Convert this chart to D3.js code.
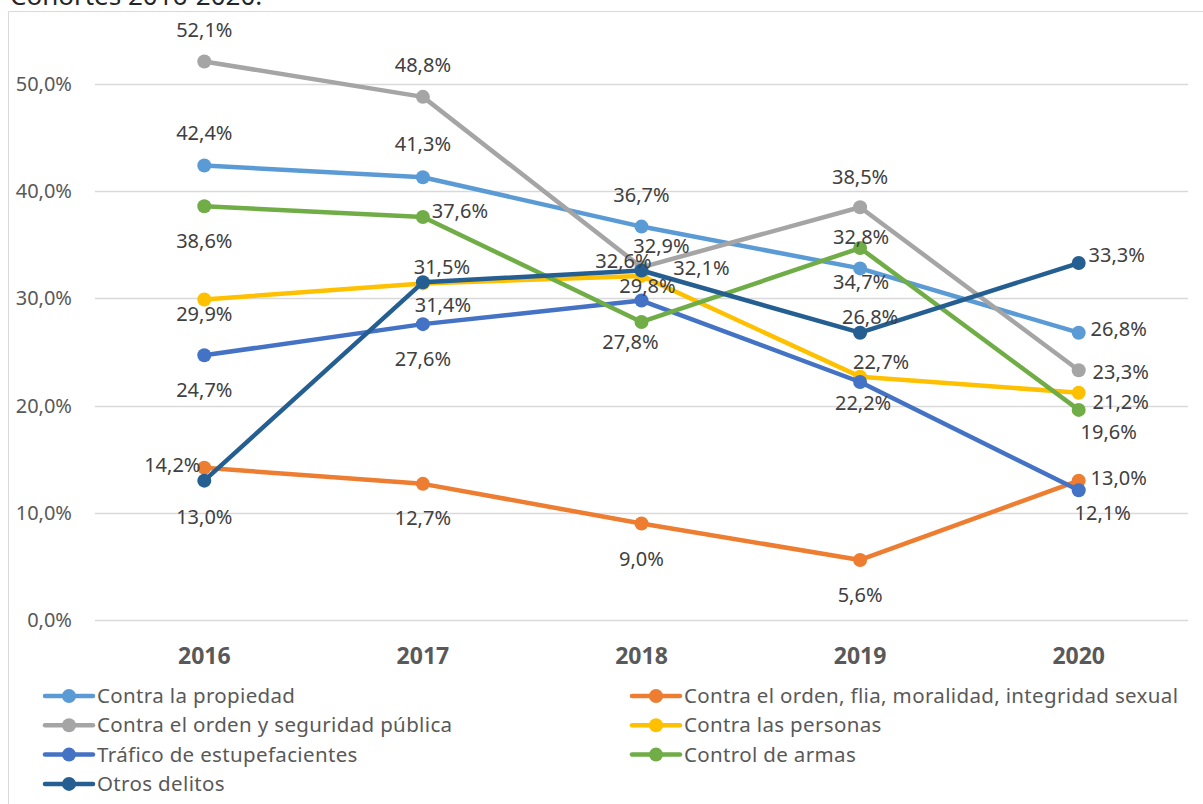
<!DOCTYPE html>
<html>
<head>
<meta charset="utf-8">
<script src="https://cdn.jsdelivr.net/npm/d3@7"></script>
<style>
  body { margin: 0; background: #fff; }
  svg { display: block; font-family: "Noto Sans", "Open Sans", sans-serif; }
</style>
</head>
<body>
<div id="chart"></div>
<script>
(function () {

  // Data
  const years = ["2016", "2017", "2018", "2019", "2020"]
  const seriesNames = [
    "Contra la propiedad",
    "Contra el orden, flia, moralidad, integridad sexual",
    "Contra el orden y seguridad pública",
    "Contra las personas",
    "Tráfico de estupefacientes",
    "Control de armas",
    "Otros delitos"
  ]
  const propiedad = [42.4, 41.3, 36.7, 32.8, 26.8]
  const ordenFlia = [14.2, 12.7, 9.0, 5.6, 13.0]
  const ordenSeguridad = [52.1, 48.8, 32.9, 38.5, 23.3]
  const personas = [29.9, 31.4, 32.1, 22.7, 21.2]
  const trafico = [24.7, 27.6, 29.8, 22.2, 12.1]
  const armas = [38.6, 37.6, 27.8, 34.7, 19.6]
  const otros = [13.0, 31.5, 32.6, 26.8, 33.3]
  const yTicks = [0, 10, 20, 30, 40, 50]

  const values = [propiedad, ordenFlia, ordenSeguridad, personas, trafico, armas, otros]
  const colors = ["#5B9BD5", "#ED7D31", "#A5A5A5", "#FFC000", "#4472C4", "#70AD47", "#255E91"]

  // label centre offset [dx, dy] from each point, as placed in the original
  const labelOffsets = [
    [[0, -32], [0, -33], [0, -32], [1, -31], [40, -4]],
    [[-32, -3], [0, 34], [0, 35], [0, 35], [40, -3]],
    [[0, -31], [0, -32], [20, -21], [0, -30], [42, 2]],
    [[0, 15], [20, 22], [60, -8], [21, -15], [42, 9]],
    [[0, 35], [0, 35], [6, -15], [3, 21], [24, 23]],
    [[0, 35], [37, -6], [-11, 20], [1, 34], [30, 22]],
    [[0, 36], [19, -15], [-18, -10], [10, -16], [38, -8]]
  ]

  const W = 1203, H = 804
  const svg = d3.select("#chart").append("svg")
    .attr("width", W)
    .attr("height", H)

  const fmt = v => d3.format(".1f")(v).replace(".", ",") + "%"

  // clipped caption at the top
  svg.append("text")
    .attr("x", 10).attr("y", 5)
    .attr("font-size", 26)
    .attr("fill", "#262626")
    .text("Cohortes 2016-2020.")

  // chart frame
  svg.append("path")
    .attr("d", `M8.5,${H} V11.5 H${W}`)
    .attr("fill", "none")
    .attr("stroke", "#D9D9D9")
    .attr("stroke-width", 1)

  const x = d3.scaleBand().domain(years).range([95, 1188])
  const cx = d => x(d) + x.bandwidth() / 2
  const y = d3.scaleLinear().domain([0, 50]).range([620, 84])

  // gridlines
  svg.append("g").selectAll("line")
    .data(yTicks)
    .join("line")
    .attr("x1", 95).attr("x2", 1188)
    .attr("y1", d => Math.round(y(d)) + 0.5)
    .attr("y2", d => Math.round(y(d)) + 0.5)
    .attr("stroke", "#D9D9D9")
    .attr("stroke-width", 1.5)

  // y axis labels
  svg.append("g").selectAll("text")
    .data(yTicks)
    .join("text")
    .attr("x", 72)
    .attr("y", d => y(d))
    .attr("dy", "0.35em")
    .attr("text-anchor", "end")
    .attr("font-size", 20)
    .attr("fill", "#595959")
    .text(d => fmt(d))

  // x axis labels
  svg.append("g").selectAll("text")
    .data(years)
    .join("text")
    .attr("x", d => cx(d))
    .attr("y", 656)
    .attr("dy", "0.35em")
    .attr("text-anchor", "middle")
    .attr("font-size", 23)
    .attr("font-weight", "bold")
    .attr("fill", "#595959")
    .text(d => d)

  const line = d3.line()
    .x((d, i) => cx(years[i]))
    .y(d => y(d))

  // lines and markers
  values.forEach((vals, s) => {
    const g = svg.append("g")
    g.append("path")
      .datum(vals)
      .attr("d", line)
      .attr("fill", "none")
      .attr("stroke", colors[s])
      .attr("stroke-width", 4.5)
      .attr("stroke-linejoin", "round")
      .attr("stroke-linecap", "round")
    g.selectAll("circle")
      .data(vals)
      .join("circle")
      .attr("cx", (d, i) => cx(years[i]))
      .attr("cy", d => y(d))
      .attr("r", 7)
      .attr("fill", colors[s])
  })

  // data labels
  values.forEach((vals, s) => {
    svg.append("g").selectAll("text")
      .data(vals)
      .join("text")
      .attr("x", (d, i) => cx(years[i]) + labelOffsets[s][i][0])
      .attr("y", (d, i) => y(d) + labelOffsets[s][i][1])
      .attr("dy", "0.35em")
      .attr("text-anchor", "middle")
      .attr("font-size", 20)
      .attr("fill", "#404040")
      .text(d => fmt(d))
  })

  // legend, two columns filled row by row
  const legend = svg.append("g").selectAll("g")
    .data(seriesNames)
    .join("g")
    .attr("transform", (d, i) => `translate(${i % 2 === 0 ? 45 : 632},${696 + Math.floor(i / 2) * 29.3})`)

  legend.append("line")
    .attr("x1", 0).attr("x2", 48)
    .attr("stroke", (d, i) => colors[i])
    .attr("stroke-width", 4.5)
    .attr("stroke-linecap", "round")
  legend.append("circle")
    .attr("cx", 24)
    .attr("r", 7)
    .attr("fill", (d, i) => colors[i])
  legend.append("text")
    .attr("x", 52)
    .attr("dy", "0.35em")
    .attr("font-size", 20.5)
    .attr("letter-spacing", 0.35)
    .attr("fill", "#595959")
    .text(d => d)

})();
</script>
</body>
</html>
